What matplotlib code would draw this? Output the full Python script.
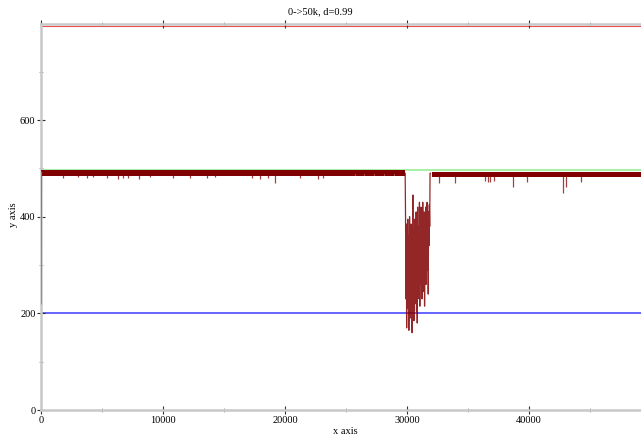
import numpy as np
import matplotlib
matplotlib.use("Agg")
import matplotlib.pyplot as plt
from matplotlib.ticker import MultipleLocator

plt.rcParams['font.family'] = ['Liberation Serif', 'DejaVu Serif']

# reference levels
upper_ref = 794
target_ref = 496
lower_ref = 200

# steady band (envelope of the fast oscillation) before and after the disturbance
band1_x = [30, 29850]
band1_hi = [497, 497]
band1_lo = [485, 485]
band2_x = [32050, 50000]
band2_hi = [492, 492]
band2_lo = [482, 482]

# start-up transient
start_x = [0, 30]
start_y = [220, 492]

# short downward spikes off the band
dip_x = [1800, 3000, 3800, 4300, 5400, 6300, 6700, 7100, 8000, 8900, 10800, 12200,
         13600, 14300, 17300, 17950, 18600, 19200, 21200, 22700, 23100,
         32600, 33900, 36400, 36600, 36800, 37100, 38700, 39800, 42800, 43000, 44300]
dip_y = [481, 482, 481, 482, 481, 478, 481, 481, 478, 482, 481, 481,
         481, 482, 481, 479, 481, 470, 481, 478, 481,
         470, 470, 473, 472, 472, 473, 462, 472, 450, 462, 472]

# speckle just under the band
speck_x = [25700, 26100, 26500, 26900, 27300, 27700, 28100, 28500, 28900]
speck_y = [488, 487, 488, 486, 488, 487, 488, 487, 488]

# disturbance between 30k and 32k
burst_x0 = 29850
burst_dx = 30
burst_y = [490, 400, 230, 385, 170, 330, 210, 395, 250, 360, 165, 300, 400, 190,
           350, 240, 385, 200, 330, 160, 280, 445, 260, 370, 185, 310, 395, 220,
           355, 275, 410, 205, 340, 180, 420, 250, 380, 300, 230, 430, 215, 365,
           260, 420, 260, 400, 230, 330, 430, 245, 380, 280, 410, 215, 360, 300,
           420, 260, 395, 330, 430, 290, 380, 240, 410, 340, 425, 380, 490, 490]

fig = plt.figure(figsize=(6.41, 4.36), dpi=100)
ax = fig.add_axes([41 / 641, 1 - 410 / 436, 600 / 641, 386 / 436])

dred = '#800000'
ax.axhline(upper_ref, color='#e85050', lw=0.8, zorder=1)
ax.axhline(target_ref, color='#a8f0a8', lw=1.5, zorder=1)
ax.axhline(lower_ref, color='#3a3aff', lw=1.1, zorder=1)

ax.fill_between(band1_x, band1_lo, band1_hi, color=dred, lw=0, zorder=3)
ax.fill_between(band2_x, band2_lo, band2_hi, color=dred, lw=0, zorder=3)
ax.plot(start_x, start_y, color='#c06060', lw=1.0, zorder=3)
ax.vlines(dip_x, dip_y, 486, color=dred, lw=0.9, alpha=0.75, zorder=3)
ax.vlines(speck_x, speck_y, 486, color='#d09090', lw=0.8, zorder=3)

bx = burst_x0 + burst_dx * np.arange(len(burst_y))
ax.plot(bx, burst_y, color=dred, lw=0.9, alpha=0.85, zorder=3)

ax.set_xlim(0, 49180)
ax.set_ylim(0, 799)
ax.xaxis.set_major_locator(MultipleLocator(10000))
ax.xaxis.set_minor_locator(MultipleLocator(5000))
ax.yaxis.set_major_locator(MultipleLocator(200))
ax.yaxis.set_minor_locator(MultipleLocator(100))
ax.tick_params(which='major', direction='inout', length=6, width=0.8,
               color='#303030', labelsize=7.5, pad=1, top=True)
ax.tick_params(which='minor', direction='inout', length=3, width=0.6,
               color='#909090', top=True)

for side in ['left', 'bottom', 'top']:
    ax.spines[side].set_color('#c8c8c8')
    ax.spines[side].set_linewidth(1.8)
ax.spines['right'].set_visible(False)

fig.text(345 / 641, 1 - 431 / 436, 'x axis', ha='center', va='center', fontsize=7.5)
fig.text(14 / 641, 1 - 215 / 436, 'y axis', ha='center', va='center',
         rotation=90, fontsize=7.5)
fig.text(0.5, 1 - 12 / 436, '0->50k, d=0.99', ha='center', va='center', fontsize=7.5)

fig.savefig('out.png', dpi=100)
